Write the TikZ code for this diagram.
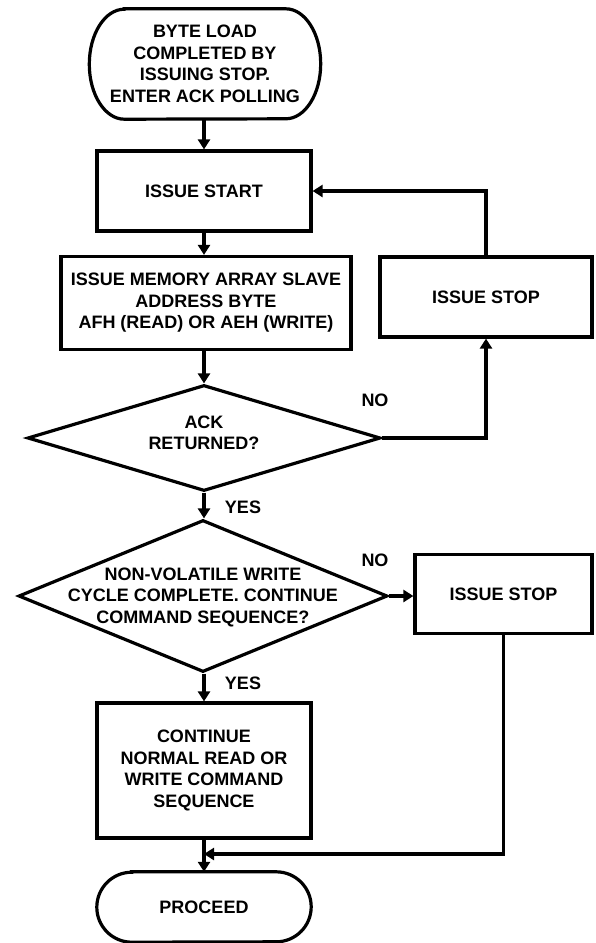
\documentclass[tikz,border=0pt]{standalone}
\usepackage{fontspec}
\setmainfont{Liberation Sans}
\usetikzlibrary{shapes.geometric, arrows.meta}

\tikzset{
    box/.style={draw, line width=3.2pt, align=center, inner sep=0pt},
    decision/.style={draw, diamond, line width=3.2pt, inner sep=0pt},
    terminal/.style={align=center, inner sep=0pt},
    flow/.style={line width=3.2pt, -{Triangle[length=10pt, width=12pt]}},
    wire/.style={line width=3.2pt},
}

% outline of a terminal node: flat top and bottom, elliptic ends
\newcommand{\termoutline}[2]{%
    \draw[wire] ([xshift=35pt]#1.north west) -- ([xshift=-35pt]#1.north east)
        arc[start angle=90, end angle=-90, x radius=35pt, y radius=#2]
        -- ([xshift=35pt]#1.south west)
        arc[start angle=270, end angle=90, x radius=35pt, y radius=#2] -- cycle;}

\begin{document}
\begin{tikzpicture}[x=1pt, y=-1pt, font=\fontsize{18}{21.5}\selectfont\bfseries]
        \useasboundingbox (0, 0) rectangle (595, 943);

        \node[terminal, minimum width=231pt, minimum height=110pt] (begin) at (205, 64)
            {BYTE LOAD\\COMPLETED BY\\ISSUING STOP.\\ENTER ACK POLLING};
        \termoutline{begin}{55pt}

        \node[box, minimum width=214pt, minimum height=80pt] (start) at (204, 191) {ISSUE START};
        \node[box, minimum width=290pt, minimum height=93pt] (addr) at (206, 303)
            {ISSUE MEMORY ARRAY SLAVE\\ADDRESS BYTE\\AFH (READ) OR AEH (WRITE)};

        \node[decision, minimum width=353pt, minimum height=106pt] (ack) at (204, 438) {};
        \node[terminal] (acktext) at (204, 433) {ACK\\RETURNED?};

        \node[box, minimum width=212pt, minimum height=80pt] (stopA) at (486, 297) {ISSUE STOP};

        %%%

        \node[decision, minimum width=369pt, minimum height=152pt] (nvw) at (203, 596) {};
        \node[terminal] (nvwtext) at (203, 597)
            {NON-VOLATILE WRITE\\CYCLE COMPLETE. CONTINUE\\COMMAND SEQUENCE?};

        \node[box, minimum width=177pt, minimum height=79pt] (stopB) at (503.5, 594) {ISSUE STOP};

        \node[box, minimum width=214pt, minimum height=135pt] (cont) at (204, 770.5)
            {CONTINUE\\NORMAL READ OR\\WRITE COMMAND\\SEQUENCE};

        \node[terminal, minimum width=214pt, minimum height=70pt] (proceed) at (204, 907) {PROCEED};
        \termoutline{proceed}{35pt}

        \node (noA) at (375, 400) {NO};
        \node (yesA) at (243, 507) {YES};
        \node (noB) at (375, 560) {NO};
        \node (yesB) at (243, 683) {YES};

        %%%

        \draw[flow] (begin.south -| start.north) -- (start.north);
        \draw[flow] (start.south) -- (start.south |- addr.north);
        \draw[flow] (addr.south -| ack.north) -- (ack.north);
        \draw[flow] (ack.east) -| (stopA.south);
        \draw[flow] (stopA.north) |- (start.east);

        \draw[flow] (ack.south) -- (nvw.north -| ack.south);
        \draw[flow] (nvw.east) -- (nvw.east -| stopB.west);
        \draw[flow] (nvw.south -| cont.north) -- (cont.north);

        \coordinate (merge) at (204, 854);
        \draw[flow] (cont.south) -- (proceed.north);
        \draw[flow] (stopB.south) |- (merge);
    \end{tikzpicture}
\end{document}
